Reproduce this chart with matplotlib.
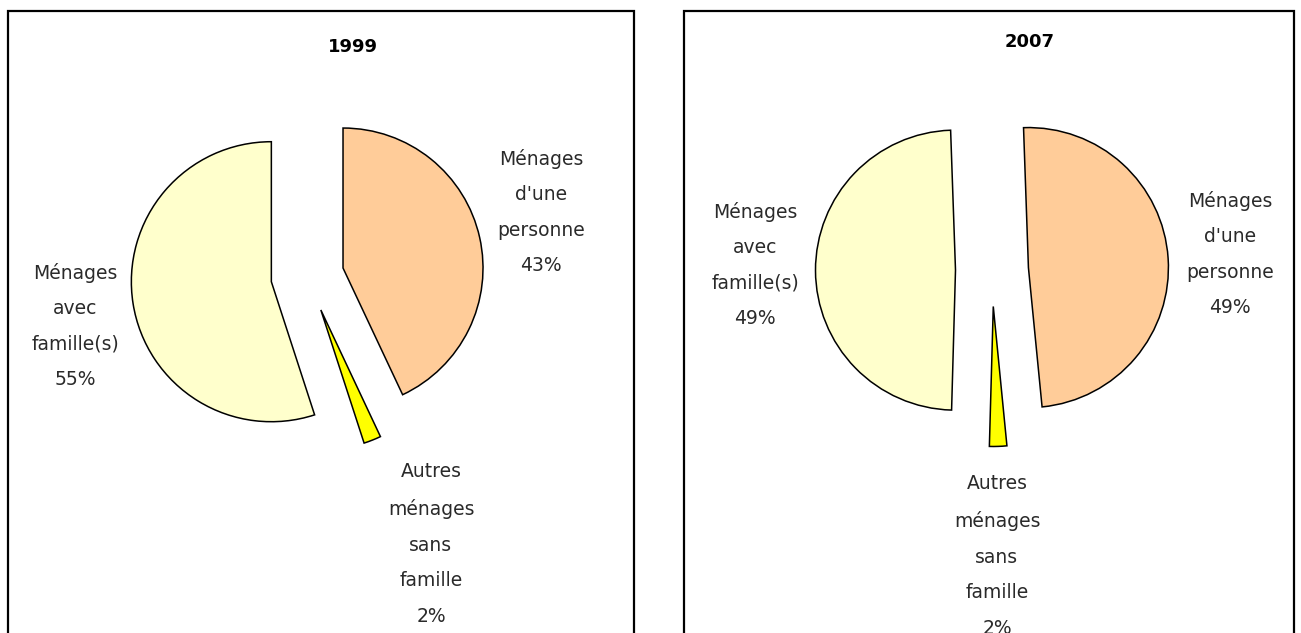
import matplotlib
matplotlib.use("Agg")
import matplotlib.pyplot as plt
from matplotlib.patches import Rectangle

# data
categories = ["Ménages\nd'une\npersonne", "Autres\nménages\nsans\nfamille", "Ménages\navec\nfamille(s)"]
colors = ["#FFCC99", "#FFFF00", "#FFFFCC"]
years = ["1999", "2007"]
shares_1999 = [43, 2, 55]
shares_2007 = [49, 2, 49]

W, H = 1301, 633
fig = plt.figure(figsize=(W / 100, H / 100), dpi=100)
ax = fig.add_axes([0, 0, 1, 1])


def y(v):
    # image rows (top-down) to data y (bottom-up)
    return H - v


panels = [
    dict(box=(8, 634), centre=(307.4, 276), start=90, title=(353, 47),
         labels=[(541, 212), (431, 544), (75, 326)], shares=shares_1999),
    dict(box=(684, 1294), centre=(992, 270), start=92, title=(1030, 42),
         labels=[(1230, 254), (997, 556), (755, 265)], shares=shares_2007),
]

for year, p in zip(years, panels):
    x0, x1 = p["box"]
    ax.add_patch(Rectangle((x0, -20), x1 - x0, y(11) + 20, fill=False,
                           edgecolor="black", linewidth=1.6, zorder=0))
    # explode is an absolute offset in data units (pixels here)
    ax.pie(p["shares"], colors=colors, startangle=p["start"], counterclock=False,
           radius=140, center=(p["centre"][0], y(p["centre"][1])),
           explode=[36.5] * len(p["shares"]),
           wedgeprops=dict(edgecolor="black", linewidth=1.1))
    ax.text(p["title"][0], y(p["title"][1]), year, ha="center", va="center",
            fontsize=13, fontweight="bold")
    for cat, share, (lx, ly) in zip(categories, p["shares"], p["labels"]):
        ax.text(lx, y(ly), f"{cat}\n{share}%", ha="center", va="center",
                fontsize=13.5, linespacing=2.1, color="#2a2a2a")

ax.set_xlim(0, W)
ax.set_ylim(0, H)
ax.set_aspect("auto")
ax.axis("off")
fig.savefig("out.png", dpi=100)
